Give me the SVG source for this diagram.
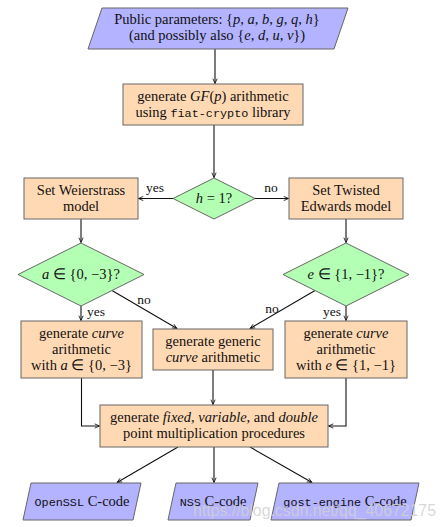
<svg xmlns="http://www.w3.org/2000/svg" width="446" height="527" viewBox="0 0 446 527">
<style>
.io{fill:#b3b3ff;stroke:#666;stroke-width:1}
.pr{fill:#ffd9b3;stroke:#666;stroke-width:1}
.dc{fill:#b3ffb3;stroke:#666;stroke-width:1}
.t{font-family:'Liberation Serif','Times New Roman',serif;font-size:14.5px;fill:#111;text-anchor:middle}
.i{font-style:italic}
.tt{font-family:'Liberation Mono','Courier New',monospace;font-size:11.8px}
.lb{font-size:13.5px}
.c{fill:none;stroke:#111;stroke-width:1.1}
.wm{font-family:'Liberation Sans',Arial,sans-serif;font-size:17px;fill:#d0d0d0;fill-opacity:0.85}
</style>
<defs>
<marker id="ah" viewBox="0 0 10 10" refX="9" refY="5" markerWidth="6" markerHeight="6" orient="auto" markerUnits="userSpaceOnUse">
<path d="M1,1.5 L9,5 L1,8.5" fill="none" stroke="#111" stroke-width="1.4"/>
</marker>
</defs>

<g id="connectors">
<path class="c" d="M215,49 V83.5" marker-end="url(#ah)"/>
<path class="c" d="M214,125 V177.5" marker-end="url(#ah)"/>
<path class="c" d="M173,198.5 H138.5" marker-end="url(#ah)"/>
<path class="c" d="M255,198.5 H288.5" marker-end="url(#ah)"/>
<path class="c" d="M81,219 V242.5" marker-end="url(#ah)"/>
<path class="c" d="M346,219 V242.5" marker-end="url(#ah)"/>
<path class="c" d="M81,306 V320.5" marker-end="url(#ah)"/>
<path class="c" d="M112,290.5 L177,328.5" marker-end="url(#ah)"/>
<path class="c" d="M315,290.5 L250,328.5" marker-end="url(#ah)"/>
<path class="c" d="M346,306 V320.5" marker-end="url(#ah)"/>
<path class="c" d="M81.5,378 V426 H99.5" marker-end="url(#ah)"/>
<path class="c" d="M213,370 V404.5" marker-end="url(#ah)"/>
<path class="c" d="M346,378 V426 H328.5" marker-end="url(#ah)"/>
<path class="c" d="M178,447 L117,482.5" marker-end="url(#ah)"/>
<path class="c" d="M214,447 V482.5" marker-end="url(#ah)"/>
<path class="c" d="M250,447 L312,482.5" marker-end="url(#ah)"/>
<text class="t lb" x="155" y="192">yes</text>
<text class="t lb" x="271" y="192">no</text>
<text class="t lb" x="96" y="316">yes</text>
<text class="t lb" x="144" y="304">no</text>
<text class="t lb" x="272" y="313">no</text>
<text class="t lb" x="332" y="316">yes</text>
</g>

<g id="params">
<polygon class="io" points="102,8 348,8 334,49 88,49"/>
<text class="t" x="217" y="24">Public parameters: {<tspan class="i">p</tspan>, <tspan class="i">a</tspan>, <tspan class="i">b</tspan>, <tspan class="i">g</tspan>, <tspan class="i">q</tspan>, <tspan class="i">h</tspan>}</text>
<text class="t" x="217" y="40">(and possibly also {<tspan class="i">e</tspan>, <tspan class="i">d</tspan>, <tspan class="i">u</tspan>, <tspan class="i">v</tspan>})</text>
</g>

<g id="gfp">
<rect class="pr" x="123" y="84" width="180" height="41"/>
<text class="t" x="213" y="101">generate <tspan class="i">GF</tspan>(<tspan class="i">p</tspan>) arithmetic</text>
<text class="t" x="213" y="117">using <tspan class="tt">fiat-crypto</tspan> library</text>
</g>

<g id="h1">
<polygon class="dc" points="214,178 255,198.5 214,219 173,198.5"/>
<text class="t" x="214" y="203"><tspan class="i">h</tspan> = 1?</text>
</g>

<g id="weierstrass">
<rect class="pr" x="24" y="178" width="114" height="41"/>
<text class="t" x="81" y="195">Set Weierstrass</text>
<text class="t" x="81" y="211">model</text>
</g>

<g id="edwards">
<rect class="pr" x="289" y="178" width="114" height="41"/>
<text class="t" x="346" y="195">Set Twisted</text>
<text class="t" x="346" y="211">Edwards model</text>
</g>

<g id="a03">
<polygon class="dc" points="81,243 144,274.5 81,306 18,274.5"/>
<text class="t" x="81" y="279"><tspan class="i">a</tspan> ∈ {0, −3}?</text>
</g>

<g id="e11">
<polygon class="dc" points="346,243 409,274.5 346,306 283,274.5"/>
<text class="t" x="346" y="279"><tspan class="i">e</tspan> ∈ {1, −1}?</text>
</g>

<g id="curvea">
<rect class="pr" x="21" y="321" width="121" height="57"/>
<text class="t" x="81.5" y="338">generate <tspan class="i">curve</tspan></text>
<text class="t" x="81.5" y="354">arithmetic</text>
<text class="t" x="81.5" y="370">with <tspan class="i">a</tspan> ∈ {0, −3}</text>
</g>

<g id="generic">
<rect class="pr" x="153" y="329" width="120" height="41"/>
<text class="t" x="213" y="346">generate generic</text>
<text class="t" x="213" y="362"><tspan class="i">curve</tspan> arithmetic</text>
</g>

<g id="curvee">
<rect class="pr" x="285" y="321" width="122" height="57"/>
<text class="t" x="346" y="338">generate <tspan class="i">curve</tspan></text>
<text class="t" x="346" y="354">arithmetic</text>
<text class="t" x="346" y="370">with <tspan class="i">e</tspan> ∈ {1, −1}</text>
</g>

<g id="pointmul">
<rect class="pr" x="100" y="405" width="228" height="42"/>
<text class="t" x="214" y="422">generate <tspan class="i">fixed</tspan>, <tspan class="i">variable</tspan>, and <tspan class="i">double</tspan></text>
<text class="t" x="214" y="438">point multiplication procedures</text>
</g>

<g id="openssl">
<polygon class="io" points="31,483 141,483 133,520 23,520"/>
<text class="t" x="82" y="506"><tspan class="tt">OpenSSL</tspan> C-code</text>
</g>

<g id="nss">
<polygon class="io" points="176,483 258,483 250,520 168,520"/>
<text class="t" x="213" y="506"><tspan class="tt">NSS</tspan> C-code</text>
</g>

<g id="gost">
<polygon class="io" points="279,483 419,483 411,520 271,520"/>
<text class="t" x="345" y="506"><tspan class="tt">gost-engine</tspan> C-code</text>
</g>

<text class="wm" x="193" y="516" textLength="243" lengthAdjust="spacingAndGlyphs">https://blog.csdn.net/qq_40672175</text>
</svg>
